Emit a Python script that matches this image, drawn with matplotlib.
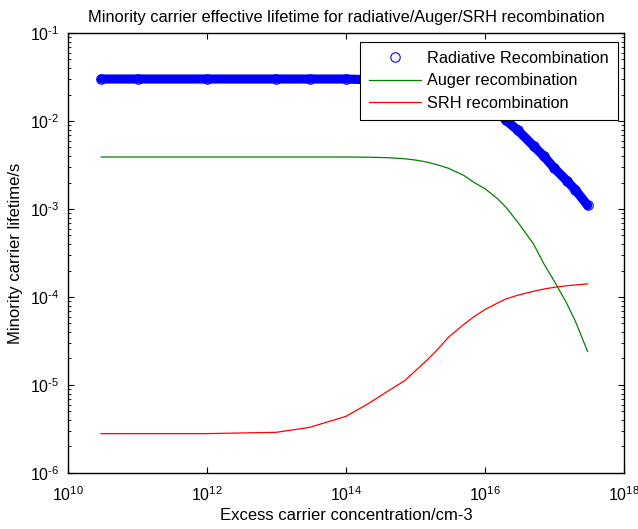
import numpy as np
import matplotlib
matplotlib.use('Agg')
import matplotlib.pyplot as plt
from matplotlib.ticker import LogLocator, NullLocator, FuncFormatter

plt.rcParams['font.family'] = ['Liberation Sans', 'DejaVu Sans']
plt.rcParams['mathtext.default'] = 'regular'
plt.rcParams['font.size'] = 12

# excess carrier concentration (cm^-3)
dn = [3e10, 1e11, 1e12, 1e13, 3e13, 1e14, 2e14, 4e14, 7e14, 1e15,
      1.5e15, 2e15, 3e15, 5e15, 7e15, 1e16, 1.5e16, 2e16, 3e16, 5e16,
      7e16, 1e17, 1.5e17, 2e17, 3e17]

# lifetimes (s)
tau_rad = [0.030, 0.030, 0.030, 0.030, 0.030, 0.030, 0.0295, 0.029, 0.0283, 0.0276,
           0.0265, 0.0256, 0.0238, 0.0209, 0.0186, 0.0160, 0.0128, 0.0102, 0.0078, 0.0052,
           0.0040, 0.0029, 0.0021, 0.00165, 0.00110]
tau_auger = [0.0039, 0.0039, 0.0039, 0.0039, 0.0039, 0.0039, 0.00388, 0.00383, 0.00372, 0.0036,
             0.0034, 0.0032, 0.0029, 0.0024, 0.0020, 0.0017, 0.00132, 0.00105, 0.00070, 0.00040,
             0.00024, 0.000150, 8.5e-5, 5.3e-5, 2.4e-5]
tau_srh = [2.8e-6, 2.8e-6, 2.8e-6, 2.9e-6, 3.3e-6, 4.4e-6, 6.0e-6, 8.5e-6, 1.12e-5, 1.45e-5,
           1.95e-5, 2.45e-5, 3.5e-5, 4.9e-5, 6.0e-5, 7.2e-5, 8.5e-5, 9.5e-5, 1.05e-4, 1.16e-4,
           1.23e-4, 1.29e-4, 1.34e-4, 1.37e-4, 1.41e-4]

fig = plt.figure(figsize=(6.38, 5.29), dpi=100)
ax = fig.add_axes([0.1066, 0.1059, 0.8714, 0.8317])

# dense band of overlapping circles in the original
ax.plot(dn, tau_rad, '-', color='#0000ff', lw=6.6, solid_capstyle='round',
        solid_joinstyle='round', zorder=2)
ax.plot(dn, tau_rad, 'o', mfc='none', mec='#0000ff', ms=6.8, mew=0.8,
        label='Radiative Recombination', zorder=3)
ax.plot(dn, tau_auger, '-', color='#008000', lw=0.9, label='Auger recombination')
ax.plot(dn, tau_srh, '-', color='#ff0000', lw=0.9, label='SRH recombination')

ax.set_xscale('log')
ax.set_yscale('log')
ax.set_xlim(1e10, 1e18)
ax.set_ylim(1e-6, 1e-1)


def pow10(v, p):
    e = int(round(np.log10(v)))
    # short hyphen in the exponent, like the original
    return r'$10^{%s}$' % str(e).replace('-', '\u2010')


ax.xaxis.set_major_locator(LogLocator(base=100, numticks=10))
ax.xaxis.set_minor_locator(NullLocator())
ax.yaxis.set_major_locator(LogLocator(base=10, numticks=10))
ax.yaxis.set_minor_locator(LogLocator(base=10, subs=np.arange(2, 10), numticks=20))
ax.xaxis.set_major_formatter(FuncFormatter(pow10))
ax.yaxis.set_major_formatter(FuncFormatter(pow10))

ax.tick_params(which='both', direction='in', top=True, right=True, labelsize=11.5)
ax.tick_params(which='major', length=4, width=0.8)
ax.tick_params(which='minor', length=2.5, width=0.6)
ax.tick_params(axis='x', pad=9)
ax.tick_params(axis='y', pad=6)
for s in ax.spines.values():
    s.set_linewidth(1.0)

ax.set_title('Minority carrier effective lifetime for radiative/Auger/SRH recombination',
             fontsize=11.8, pad=8)
ax.set_xlabel('Excess carrier concentration/cm-3', fontsize=12, labelpad=3)
ax.set_ylabel('Minority carrier lifetime/s', fontsize=12, labelpad=5)

leg = ax.legend(loc='upper right', bbox_to_anchor=(0.989, 0.9795), fontsize=11.7,
                handlelength=3.2, handletextpad=0.4, borderaxespad=0,
                fancybox=False, framealpha=1, edgecolor='black',
                borderpad=0.55, labelspacing=0.45)
leg.get_frame().set_linewidth(0.8)

fig.savefig('out.png', dpi=100)
